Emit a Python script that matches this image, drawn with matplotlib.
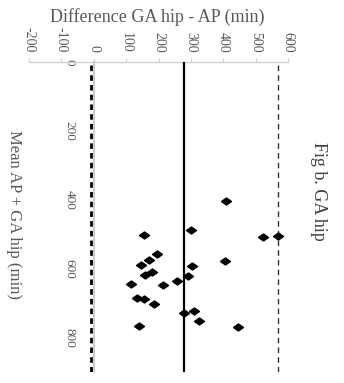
import matplotlib
matplotlib.use("Agg")
import matplotlib.pyplot as plt

# Data read from the (rotated) chart
mean_ap_ga = [404, 487, 501, 507, 506, 558, 575, 578, 590, 593, 610, 617,
              621, 635, 645, 647, 684, 688, 704, 730, 722, 753, 765, 768]
diff_ga_ap = [407, 300, 155, 522, 570, 196, 171, 404, 147, 303, 179, 159,
              292, 257, 114, 214, 133, 155, 185, 278, 310, 324, 140, 446]
mean_diff = 280
lower_loa = -10
upper_loa = 570

diff_ticks = [-200, -100, 0, 100, 200, 300, 400, 500, 600]
mean_ticks = [0, 200, 400, 600, 800]

serif = ["Liberation Serif", "DejaVu Serif"]
gray_txt = "#595959"

fig = plt.figure(figsize=(3.44, 3.83), dpi=100)
ax = fig.add_axes([29/344, 11/383, 259/344, 310/383])

# rotated chart: difference runs horizontally, mean runs vertically downward
ax.set_xlim(-200, 600)
ax.set_ylim(900, 0)

diamond = [(-1, 0), (0, 0.7), (1, 0), (0, -0.7), (-1, 0)]
ax.plot(diff_ga_ap, mean_ap_ga, linestyle="none", marker=diamond,
        markersize=7.2, color="black", zorder=5)

ax.axvline(mean_diff, color="black", lw=1.6, zorder=3)
ax.axvline(upper_loa, color="#333333", lw=1.0, linestyle=(0, (4, 3)), zorder=3)
ax.axvline(lower_loa, color="black", lw=2.0, linestyle=(0, (2, 1.5)), zorder=3)

for s in ["right", "bottom"]:
    ax.spines[s].set_visible(False)
ax.spines["top"].set_color("#d0d0d0")
ax.spines["top"].set_linewidth(1.0)
ax.spines["left"].set_position(("data", 0))
ax.spines["left"].set_color("#c8c8c8")
ax.spines["left"].set_linewidth(1.3)
ax.spines["left"].set_zorder(2)

ax.xaxis.tick_top()
ax.set_xticks(diff_ticks)
ax.set_xticklabels([str(t) for t in diff_ticks], rotation=-90,
                   fontsize=10, family=serif, color=gray_txt)
ax.tick_params(axis="x", direction="out", length=3, width=0.8,
               color="#d0d0d0", pad=4)

ax.set_yticks(mean_ticks)
ax.set_yticklabels([str(t) for t in mean_ticks], rotation=-90, va="center",
                   fontsize=9.5, family=serif, color=gray_txt)
ax.tick_params(axis="y", length=0, pad=13)

fig.text(157/344, 1 - 17/383, "Difference GA hip - AP (min)", ha="center",
         va="center", fontsize=13, family=serif, color=gray_txt)
fig.text(14/344, 1 - 215/383, "Mean AP + GA hip (min)", ha="center",
         va="center", rotation=-90, fontsize=12, family=serif, color=gray_txt)
fig.text(318/344, 1 - 191/383, "Fig b. GA hip", ha="center", va="center",
         rotation=-90, fontsize=13, family=serif, color="#404040")

fig.savefig("out.png", dpi=100, facecolor="white")
